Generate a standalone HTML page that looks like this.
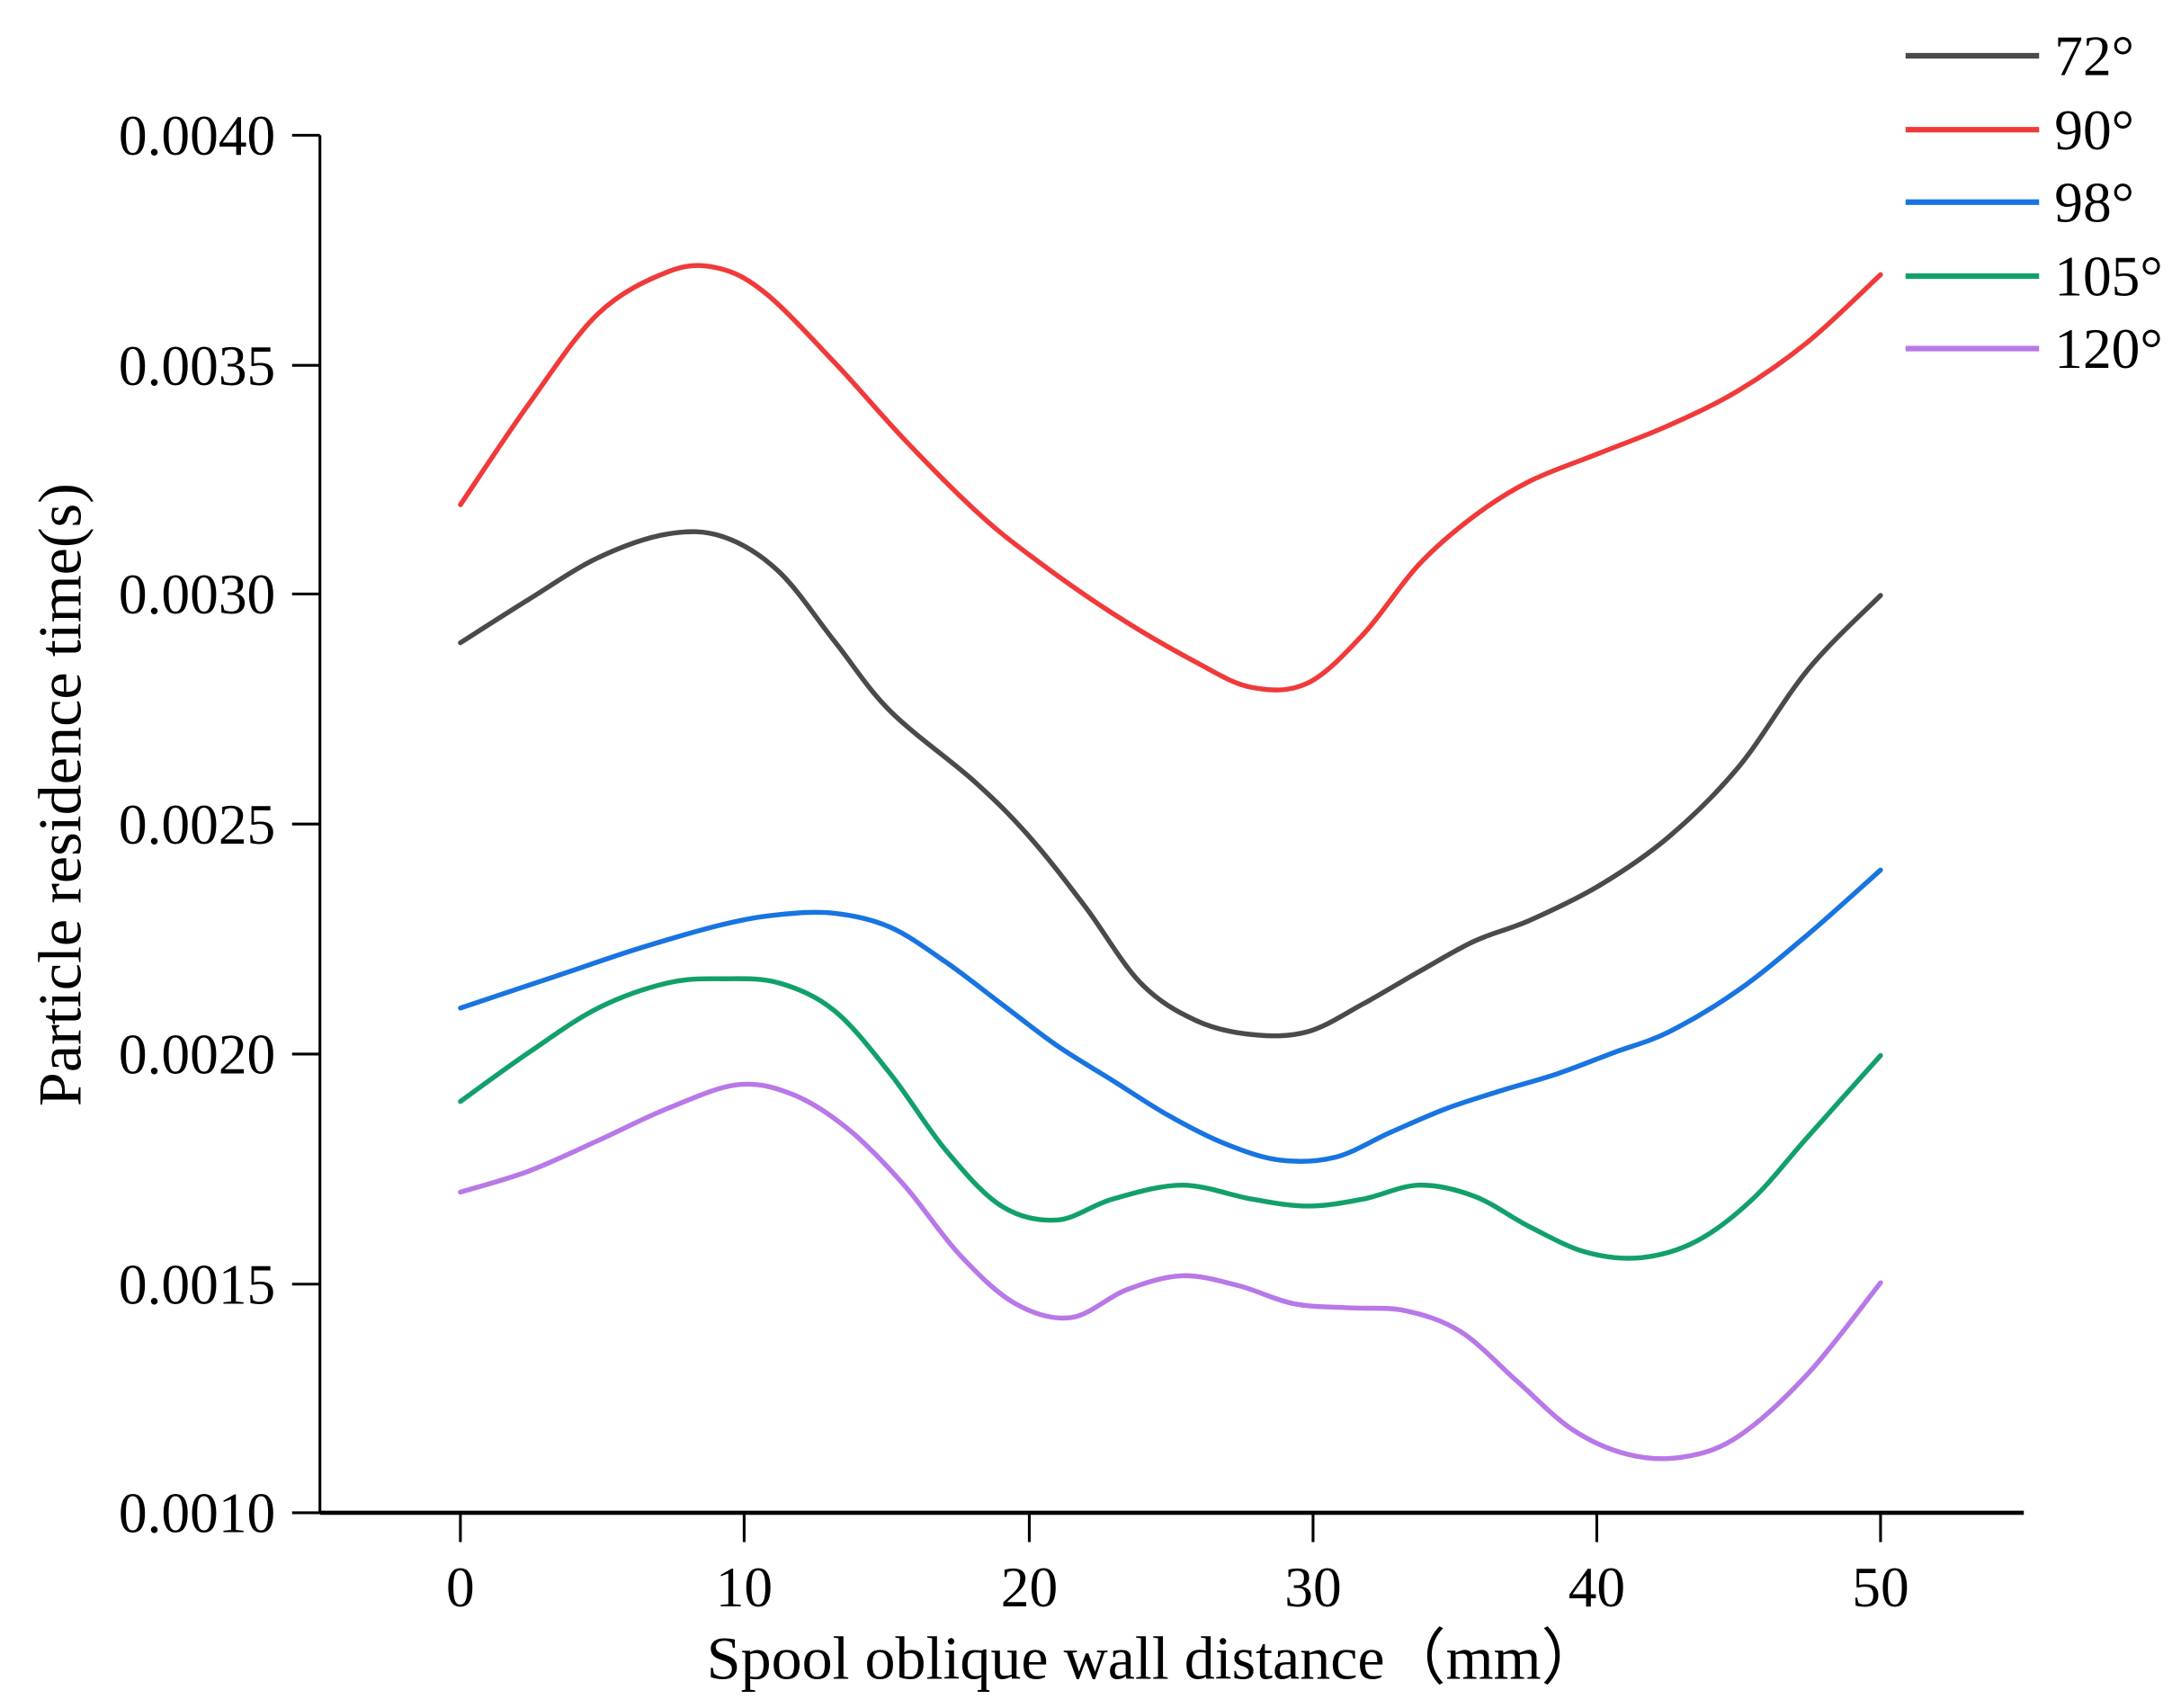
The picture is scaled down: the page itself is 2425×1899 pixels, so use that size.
<!DOCTYPE html>
<html><head><meta charset="utf-8"><style>html,body{margin:0;padding:0;background:#fff}svg{display:block}</style></head>
<body>
<svg id="s" width="2425" height="1899" viewBox="0 0 1568 1225" preserveAspectRatio="none" xmlns="http://www.w3.org/2000/svg" font-family="Liberation Serif, serif">
<rect width="1568" height="1225" fill="#fff"/>
<g stroke="#000" stroke-width="2" fill="none">
<line x1="230" y1="97" x2="230" y2="1085"/>
<line x1="230" y1="1085" x2="1455" y2="1085" stroke-width="3"/>
<line x1="210" y1="97" x2="230" y2="97"/><line x1="210" y1="262" x2="230" y2="262"/>
<line x1="210" y1="426" x2="230" y2="426"/><line x1="210" y1="591" x2="230" y2="591"/>
<line x1="210" y1="756" x2="230" y2="756"/><line x1="210" y1="921" x2="230" y2="921"/>
<line x1="210" y1="1085" x2="230" y2="1085"/>
<line x1="331" y1="1085" x2="331" y2="1106"/><line x1="535" y1="1085" x2="535" y2="1106"/>
<line x1="740" y1="1085" x2="740" y2="1106"/><line x1="944" y1="1085" x2="944" y2="1106"/>
<line x1="1148" y1="1085" x2="1148" y2="1106"/><line x1="1352" y1="1085" x2="1352" y2="1106"/>
</g>
<g font-size="41" text-anchor="end" fill="#000">
<text x="198" y="111">0.0040</text><text x="198" y="276">0.0035</text><text x="198" y="440">0.0030</text>
<text x="198" y="605">0.0025</text><text x="198" y="770">0.0020</text><text x="198" y="935">0.0015</text>
<text x="198" y="1099">0.0010</text>
</g>
<g font-size="41" text-anchor="middle" fill="#000">
<text x="331" y="1152">0</text><text x="535" y="1152">10</text><text x="740" y="1152">20</text>
<text x="944" y="1152">30</text><text x="1148" y="1152">40</text><text x="1352" y="1152">50</text>
<text x="830" y="1204" font-size="44">Spool oblique wall distance（mm）</text>
<text transform="translate(58,570) rotate(-90)" font-size="44">Particle residence time(s)</text>
</g>
<g id="curves" fill="none" stroke-width="3.5" stroke-linejoin="round" stroke-linecap="round">
<polyline stroke="#f03a3a" points="331,362 380,290 430,225 480,195 515,192 550,210 600,260 650,315 700,365 740,398 800,440 860,475 900,493 940,490 980,455 1020,405 1060,370 1100,345 1150,325 1200,305 1250,280 1300,245 1352,197"/>
<polyline stroke="#4a4a4a" points="331,461 380,430 430,400 480,383 520,385 560,410 600,460 640,510 700,560 740,600 780,650 820,705 860,732 900,742 940,740 980,720 1020,697 1060,675 1100,660 1150,635 1200,600 1250,550 1300,480 1352,427"/>
<polyline stroke="#1874e0" points="331,723 400,700 460,680 520,663 560,656 600,655 640,665 680,690 720,720 760,750 800,775 840,800 880,820 920,832 960,830 1000,812 1040,795 1080,782 1120,770 1160,755 1200,740 1250,710 1300,670 1352,624"/>
<polyline stroke="#12a06a" points="331,790 380,755 430,723 480,705 520,702 560,705 600,725 640,770 680,825 720,865 760,875 800,860 850,850 900,860 940,865 980,860 1020,850 1060,858 1100,880 1140,898 1180,902 1220,890 1260,860 1300,815 1352,757"/>
<polyline stroke="#b878e8" points="331,855 380,840 430,818 480,795 530,778 570,785 610,810 650,850 690,900 730,935 770,945 810,925 850,915 890,922 930,935 970,938 1010,940 1050,955 1090,990 1130,1025 1170,1043 1210,1045 1250,1030 1300,985 1352,920"/>
</g>
<g stroke-width="4">
<line x1="1370" y1="40" x2="1466" y2="40" stroke="#4a4a4a"/>
<line x1="1370" y1="93" x2="1466" y2="93" stroke="#f03a3a"/>
<line x1="1370" y1="145" x2="1466" y2="145" stroke="#1874e0"/>
<line x1="1370" y1="198" x2="1466" y2="198" stroke="#12a06a"/>
<line x1="1370" y1="250" x2="1466" y2="250" stroke="#b878e8"/>
</g>
<g font-size="41" fill="#000">
<text x="1477" y="54">72°</text><text x="1477" y="107">90°</text><text x="1477" y="159">98°</text>
<text x="1477" y="212">105°</text><text x="1477" y="264">120°</text>
</g>
</svg>
<script>
(function(){
var ns="http://www.w3.org/2000/svg";
var pls=document.querySelectorAll('#curves polyline');
pls.forEach(function(pl){
 var p=pl.getAttribute('points').trim().split(/\s+/).map(function(s){return s.split(',').map(Number);});
 var d="M"+p[0][0]+","+p[0][1];
 for(var i=0;i<p.length-1;i++){
  var p0=p[i>0?i-1:i],p1=p[i],p2=p[i+1],p3=p[i+2<p.length?i+2:i+1];
  var c1x=p1[0]+(p2[0]-p0[0])/6,c1y=p1[1]+(p2[1]-p0[1])/6;
  var c2x=p2[0]-(p3[0]-p1[0])/6,c2y=p2[1]-(p3[1]-p1[1])/6;
  d+=" C"+c1x+","+c1y+" "+c2x+","+c2y+" "+p2[0]+","+p2[1];
 }
 var path=document.createElementNS(ns,'path');
 path.setAttribute('d',d);path.setAttribute('stroke',pl.getAttribute('stroke'));
 pl.parentNode.replaceChild(path,pl);
});
})();
</script>
</body></html>
